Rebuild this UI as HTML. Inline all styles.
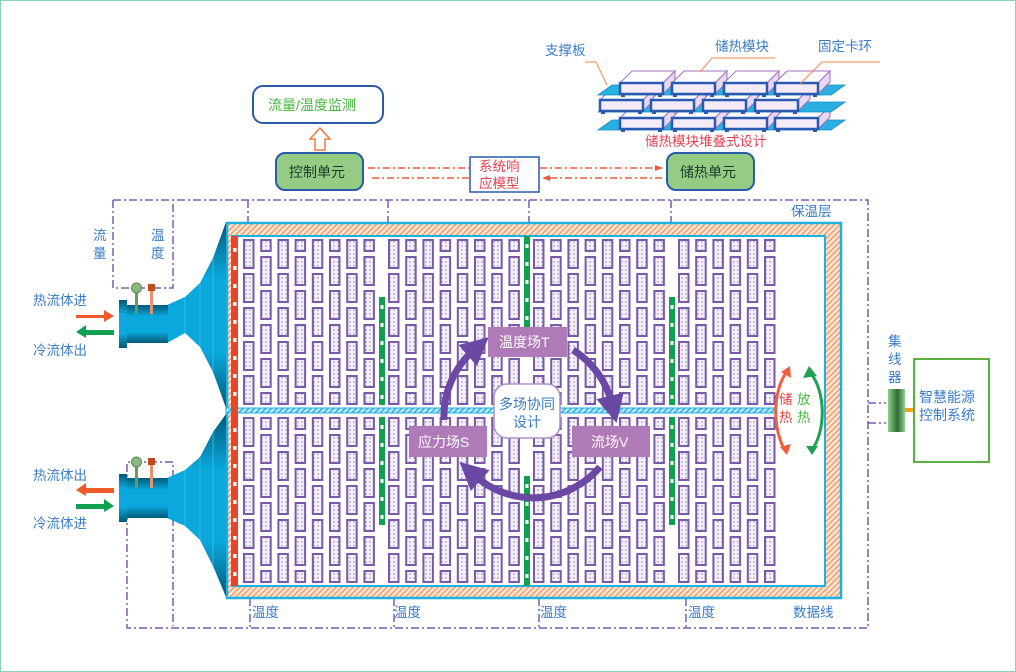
<!DOCTYPE html>
<html><head><meta charset="utf-8"><style>
html,body{margin:0;padding:0;background:#fff}
svg{display:block}
text{font-family:"Liberation Sans","Noto Sans CJK SC",sans-serif}
</style></head><body>
<svg id="s" width="1016" height="672" viewBox="0 0 1016 672" xmlns="http://www.w3.org/2000/svg">
<defs>
<pattern id="dots" width="4" height="4" patternUnits="userSpaceOnUse"><rect width="4" height="4" fill="#f3f0f8"/><circle cx="2" cy="2" r="0.7" fill="#8a7ab8"/></pattern>
<pattern id="hatch" width="4" height="4" patternUnits="userSpaceOnUse" patternTransform="rotate(45)"><rect width="4" height="4" fill="#fde8d8"/><rect width="1.6" height="4" fill="#f0a070"/></pattern>
<pattern id="hatchc" width="4" height="4" patternUnits="userSpaceOnUse" patternTransform="rotate(45)"><rect width="4" height="4" fill="#bfe8f5"/><rect width="1.5" height="4" fill="#2fb0e0"/></pattern>
<linearGradient id="pipe" x1="0" y1="0" x2="0" y2="1"><stop offset="0" stop-color="#005a78"/><stop offset=".3" stop-color="#0aa8dc"/><stop offset=".7" stop-color="#0aa8dc"/><stop offset="1" stop-color="#005a78"/></linearGradient>
<linearGradient id="conc" x1="0" y1="0" x2="1" y2="0"><stop offset="0" stop-color="#8fd08a"/><stop offset=".55" stop-color="#2f6a34"/><stop offset="1" stop-color="#8fd08a"/></linearGradient>
<marker id="ah" markerWidth="4" markerHeight="4" refX="1.2" refY="2" orient="auto" markerUnits="strokeWidth"><path d="M0,0 L4,2 L0,4 z" fill="#6a48a4"/></marker>
<marker id="ra" markerWidth="8" markerHeight="8" refX="7" refY="4" orient="auto" markerUnits="userSpaceOnUse"><path d="M0,1 L8,4 L0,7 z" fill="#f05a3a"/></marker>
</defs>
<rect x="0.5" y="0.5" width="1015" height="671" fill="#fff" stroke="#8ad4b8"/>

<g fill="none" stroke="#7a5ab0" stroke-width="1.5" stroke-dasharray="8,3,2,3">
<path d="M113,200 H868 V628 H127 V462 H173 V626"/>
<path d="M113,200 V288 H173 V200"/>
<path d="M248,200 V222 M388,200 V222 M529,200 V222 M671,200 V222"/>
<path d="M250,582 V628 M394,582 V628 M539,582 V628 M686,582 V628"/>
<path d="M868,403 H886 M868,423 H886"/>
</g>

<rect x="227" y="223" width="614" height="375" fill="url(#hatch)" stroke="#1eb0e0" stroke-width="2.5"/>
<rect x="232" y="236" width="593" height="350" fill="#fff" stroke="#1eb0e0" stroke-width="2"/>
<g id="mods"></g>
<rect x="226" y="408" width="550" height="5" fill="url(#hatchc)" stroke="#1eb0e0" stroke-width="1"/>
<rect x="231" y="236" width="7" height="350" fill="#e8452a"/>
<g id="reddots" fill="#fff"></g>

<polygon points="167,305 185,297 200,283 213,258 226,222 226,408 213,372 200,347 185,333 167,343" fill="url(#pipe)"/>
<path d="M185,297 V333 M200,283 V347 M213,258 V372" stroke="#3fc0e8" stroke-width="0.8"/>
<rect x="127" y="305" width="41" height="38" fill="url(#pipe)"/>
<rect x="119" y="300" width="8" height="48" fill="url(#pipe)"/>
<polygon points="167,478 185,470 200,457 213,432 226,414 226,597 213,566 200,540 185,526 167,518" fill="url(#pipe)"/>
<path d="M185,470 V526 M200,457 V540 M213,432 V566" stroke="#3fc0e8" stroke-width="0.8"/>
<rect x="127" y="478" width="41" height="40" fill="url(#pipe)"/>
<rect x="119" y="474" width="8" height="48" fill="url(#pipe)"/>
<rect x="135" y="290" width="3" height="24" fill="#6a9a60"/><circle cx="136.5" cy="288" r="5" fill="#8ab880" stroke="#5a8a50"/>
<rect x="150" y="286" width="3" height="28" fill="#e89070"/><rect x="148" y="284" width="7" height="7" fill="#c04a20"/>
<rect x="135" y="462" width="3" height="26" fill="#6a9a60"/><circle cx="136.5" cy="462" r="5" fill="#8ab880" stroke="#5a8a50"/>
<rect x="150" y="460" width="3" height="28" fill="#e89070"/><rect x="148" y="458" width="7" height="7" fill="#c04a20"/>

<path d="M76,315 H104 V310 L114,316 L104,322 V318 H76 z" fill="#f05a2a"/>
<path d="M114,330 H86 V325 L76,332 L86,338 V335 H114 z" fill="#10a050"/>
<path d="M114,488 H86 V483 L76,490 L86,496 V493 H114 z" fill="#f05a2a"/>
<path d="M76,504 H104 V499 L114,506 L104,512 V509 H76 z" fill="#10a050"/>

<rect x="888" y="389" width="17" height="43" fill="url(#conc)"/>
<rect x="905" y="408" width="9" height="4" fill="#f5a020"/>
<rect x="914" y="359" width="75" height="103" fill="#fff" stroke="#5ab040" stroke-width="2"/>

<g font-size="13.5" fill="#3a7cc8">
<text x="33" y="305">热流体进</text><text x="33" y="355">冷流体出</text>
<text x="33" y="480">热流体出</text><text x="33" y="528">冷流体进</text>
<text x="93" y="240">流</text><text x="93" y="258">量</text>
<text x="151" y="240">温</text><text x="151" y="258">度</text>
<text x="252" y="617">温度</text><text x="394" y="617">温度</text><text x="540" y="617">温度</text><text x="688" y="617">温度</text>
<text x="793" y="617">数据线</text><text x="791" y="216">保温层</text>
<text x="888" y="346">集</text><text x="888" y="364">线</text><text x="888" y="382">器</text>
<text x="919" y="402" font-size="14">智慧能源</text><text x="919" y="420" font-size="14">控制系统</text>
</g>

<path d="M788,370 C772,390 772,430 786,452" fill="none" stroke="#f06040" stroke-width="3"/>
<path d="M781,372 L790,366 L791,378 z M780,447 L787,455 L791,444 z" fill="#f06040"/>
<path d="M810,372 C826,392 826,430 812,450" fill="none" stroke="#20a050" stroke-width="3"/>
<path d="M803,378 L809,366 L817,376 z M806,446 L812,455 L818,446 z" fill="#20a050"/>
<text x="779" y="404" font-size="13.5" fill="#e84040">储</text><text x="779" y="422" font-size="13.5" fill="#e84040">热</text>
<text x="797" y="404" font-size="13.5" fill="#4ab840">放</text><text x="797" y="422" font-size="13.5" fill="#4ab840">热</text>

<g fill="none" stroke="#6a48a4" stroke-width="7">
<path d="M573,350 A88,88 0 0 1 612,404" marker-end="url(#ah)"/>
<path d="M600,467 A88,88 0 0 1 474,475" marker-end="url(#ah)"/>
<path d="M444,420 A88,88 0 0 1 474,350" marker-end="url(#ah)"/>
</g>
<rect x="488" y="327" width="79" height="30" fill="#b07ab8"/>
<rect x="409" y="426" width="78" height="31" fill="#b07ab8"/>
<rect x="572" y="426" width="78" height="31" fill="#b07ab8"/>
<rect x="494" y="384" width="66" height="54" rx="13" fill="#fff" stroke="#b090c8" stroke-width="1.5"/>
<g font-size="14" fill="#fff">
<text x="499" y="347">温度场T</text><text x="418" y="447">应力场S</text><text x="591" y="447">流场V</text>
</g>
<text x="499" y="409" font-size="14" fill="#3a7cc8">多场协同</text>
<text x="513" y="427" font-size="14" fill="#3a7cc8">设计</text>

<rect x="253" y="86" width="130" height="37" rx="10" fill="#fff" stroke="#2a5aa8" stroke-width="2"/>
<text x="268" y="110" font-size="14" fill="#4ab840">流量/温度监测</text>
<path d="M315,150 V139 H310 L320,128 L330,139 H325 V150 z" fill="#fff" stroke="#f07a40" stroke-width="1.5"/>
<rect x="276" y="153" width="87" height="37" rx="9" fill="#94cc84" stroke="#2a5aa8" stroke-width="2"/>
<text x="289" y="177" font-size="14" fill="#1a3a2a">控制单元</text>
<rect x="667" y="153" width="87" height="37" rx="9" fill="#94cc84" stroke="#2a5aa8" stroke-width="2"/>
<text x="680" y="177" font-size="14" fill="#1a3a2a">储热单元</text>
<g fill="none" stroke="#f05a3a" stroke-width="1.5" stroke-dasharray="7,3,2,3">
<path d="M368,168 H469 M540,168 H662" marker-end="url(#ra)"/>
<path d="M469,178 H372 M662,178 H543" marker-end="url(#ra)"/>
</g>
<rect x="470" y="157" width="69" height="35" fill="#fff" stroke="#2a5aa8" stroke-width="1.5"/>
<text x="479" y="171" font-size="13.5" fill="#e84050">系统响</text>
<text x="479" y="188" font-size="13.5" fill="#e84050">应模型</text>

<g id="stack"></g>
<g font-size="13.5" fill="#3a7cc8">
<text x="545" y="55">支撑板</text><text x="715" y="51">储热模块</text><text x="818" y="51">固定卡环</text>
</g>
<text x="645" y="146" font-size="13.5" fill="#e84050">储热模块堆叠式设计</text>
<g fill="none" stroke="#f08a50" stroke-width="1">
<path d="M585,62 H596 L607,85"/><path d="M775,58 H712 L700,72"/><path d="M880,62 H822 L800,84"/>
</g>
</svg>
<script>
var NS="http://www.w3.org/2000/svg";
function el(p,t,a){var e=document.createElementNS(NS,t);for(var k in a)e.setAttribute(k,a[k]);p.appendChild(e);return e;}
var m=document.getElementById('mods');
var xs=[];
for(var i=0;i<8;i++)xs.push(244+i*17.2);
for(var i=0;i<8;i++)xs.push(389+i*17.2);
for(var i=0;i<8;i++)xs.push(534+i*17.2);
for(var i=0;i<6;i++)xs.push(679+i*17.2);
function rect(x,y,h){if(h<4)return;el(m,'rect',{x:x,y:y,width:9.5,height:h,fill:'url(#dots)',stroke:'#7a5aa8','stroke-width':2});}
function half(y0,y1){
 xs.forEach(function(x,ci){
  var odd=(ci%2==0);
  var y=y0;
  if(!odd){rect(x,y0,11);y=y0+17;}
  while(y+28<=y1+1){rect(x,y,28);y+=34;}
  if(y<y1-4)rect(x,y,y1-y);
 });
}
half(240,404);
half(418,582);
function g(x,y,h){el(m,'rect',{x:x,y:y,width:6,height:h,fill:'#10a050'});for(var yy=y+8;yy<y+h-4;yy+=18)el(m,'rect',{x:x+1.5,y:yy,width:3,height:4,fill:'#fff'});}
g(379,297,108);g(379,417,108);g(524,236,95);g(524,476,110);g(669,297,108);g(669,417,108);
var rd=document.getElementById('reddots');
for(var y=248;y<586;y+=18){if(y>400&&y<418)continue;el(rd,'rect',{x:233,y:y,width:3.5,height:4});}
var s=document.getElementById('stack');
function plate(y){el(s,'polygon',{points:'598,'+(y+10)+' 612,'+y+' 845,'+y+' 831,'+(y+10),fill:'#2ab0e0',stroke:'#1a8ac0','stroke-width':0.8});}
function mod(x,y){
 el(s,'polygon',{points:x+','+y+' '+(x+12)+','+(y-12)+' '+(x+55)+','+(y-12)+' '+(x+43)+','+y,fill:'#fff',stroke:'#a070c0','stroke-width':1});
 el(s,'polygon',{points:(x+43)+','+y+' '+(x+55)+','+(y-12)+' '+(x+55)+','+(y-1)+' '+(x+43)+','+(y+11),fill:'#e8d8f0',stroke:'#a070c0','stroke-width':1});
 el(s,'rect',{x:x,y:y,width:43,height:11,fill:'#f4eaf8',stroke:'#2a5ab0','stroke-width':2.5});
 el(s,'rect',{x:x+1,y:y+11,width:4,height:3,fill:'#2a5ab0'});el(s,'rect',{x:x+38,y:y+11,width:4,height:3,fill:'#2a5ab0'});
}
plate(120);[620,672,724,775].forEach(function(x){mod(x,118);});
plate(102);[600,651,703,755].forEach(function(x){mod(x,100);});
plate(85);[620,672,724,775].forEach(function(x){mod(x,83);});
</script>
</body></html>
